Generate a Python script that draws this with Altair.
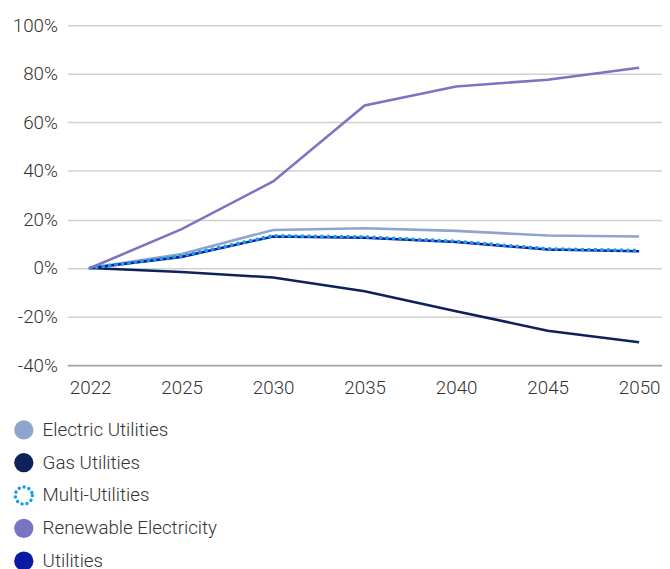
import altair as alt
import pandas as pd

years = ["2022", "2025", "2030", "2035", "2040", "2045", "2050"]
series_names = ["Electric Utilities", "Gas Utilities", "Multi-Utilities",
                "Renewable Electricity", "Utilities"]
colors = ["#8fa5cd", "#0c2258", "#1c9fe2", "#7b74c3", "#0b1aa3"]

electric = [0, 5.8, 15.7, 16.4, 15.3, 13.4, 13.0]
gas = [0, -1.6, -3.9, -9.6, -17.8, -25.8, -30.6]
multi = [0, 5.0, 13.3, 12.8, 11.0, 7.9, 7.2]
renewable = [0, 16.0, 35.7, 67.0, 74.8, 77.6, 82.5]
utilities = [0, 4.6, 13.0, 12.5, 10.7, 7.6, 6.9]

y_ticks = [-40, -20, 0, 20, 40, 60, 80, 100]

rows = []
for name, vals in zip(series_names, [electric, gas, multi, renewable, utilities]):
    for yr, v in zip(years, vals):
        rows.append({"year": yr, "series": name, "value": v})
df = pd.DataFrame(rows)

FONT = "Roboto"
FS = 19
FW = 300
TXT = "#333333"

base = alt.Chart(df)
x = alt.X("year:O", sort=years,
          scale=alt.Scale(type="point", padding=0.25),
          axis=alt.Axis(title=None, labelAngle=0, ticks=False, domainColor="#a6a6a6",
                        domainWidth=2, labelPadding=14, grid=False, labelFontSize=FS,
                        labelColor=TXT, labelFont=FONT, labelFontWeight=FW))
y = alt.Y("value:Q", scale=alt.Scale(domain=[-40, 100], nice=False, zero=False),
          axis=alt.Axis(title=None, values=y_ticks, labelExpr="datum.value + '%'",
                        domain=False, ticks=False, gridColor="#d0d0d0", gridWidth=1.5,
                        labelPadding=10, minExtent=60, maxExtent=60, labelFontSize=FS,
                        labelColor=TXT, labelFont=FONT, labelFontWeight=FW))

layers = []
draw_order = ["Electric Utilities", "Gas Utilities", "Utilities",
              "Multi-Utilities", "Renewable Electricity"]
for name in draw_order:
    c = colors[series_names.index(name)]
    if name == "Multi-Utilities":
        m = base.mark_line(color=c, strokeWidth=3.8, strokeDash=[0.1, 6.5], strokeCap="round")
    else:
        m = base.mark_line(color=c, strokeWidth=2.6)
    layers.append(m.encode(x=x, y=y).transform_filter(alt.datum.series == name))

plot = alt.layer(*layers).properties(width=602, height=344)

leg_df = pd.DataFrame({"series": series_names})
ly = alt.Y("series:N", sort=series_names, axis=None,
           scale=alt.Scale(type="point", padding=0.5, domain=series_names))
color_scale = alt.Scale(domain=series_names, range=colors)

SYM_X = -44
TXT_X = -25

filled = alt.Chart(leg_df).mark_point(shape="circle", filled=True, size=380, opacity=1).encode(
    x=alt.value(SYM_X), y=ly,
    color=alt.Color("series:N", scale=color_scale, legend=None)
).transform_filter(alt.datum.series != "Multi-Utilities")

dotted = alt.Chart(leg_df).mark_point(shape="circle", filled=False, size=300, strokeWidth=3.5,
                                      strokeDash=[0.1, 5], strokeCap="round",
                                      color=colors[2], opacity=1).encode(
    x=alt.value(SYM_X), y=ly
).transform_filter(alt.datum.series == "Multi-Utilities")

text = alt.Chart(leg_df).mark_text(align="left", baseline="middle", fontSize=FS,
                                   color=TXT, font=FONT, fontWeight=FW).encode(
    x=alt.value(TXT_X), y=ly, text="series:N")

legend = alt.layer(filled, dotted, text).properties(width=300, height=166)

chart = alt.vconcat(plot, legend, spacing=16).properties(
    padding={"left": 0, "top": 5, "right": 0, "bottom": 0}
).configure(font=FONT).configure_view(stroke=None)

chart.save("out.html", embed_options={"renderer": "svg", "actions": False})
